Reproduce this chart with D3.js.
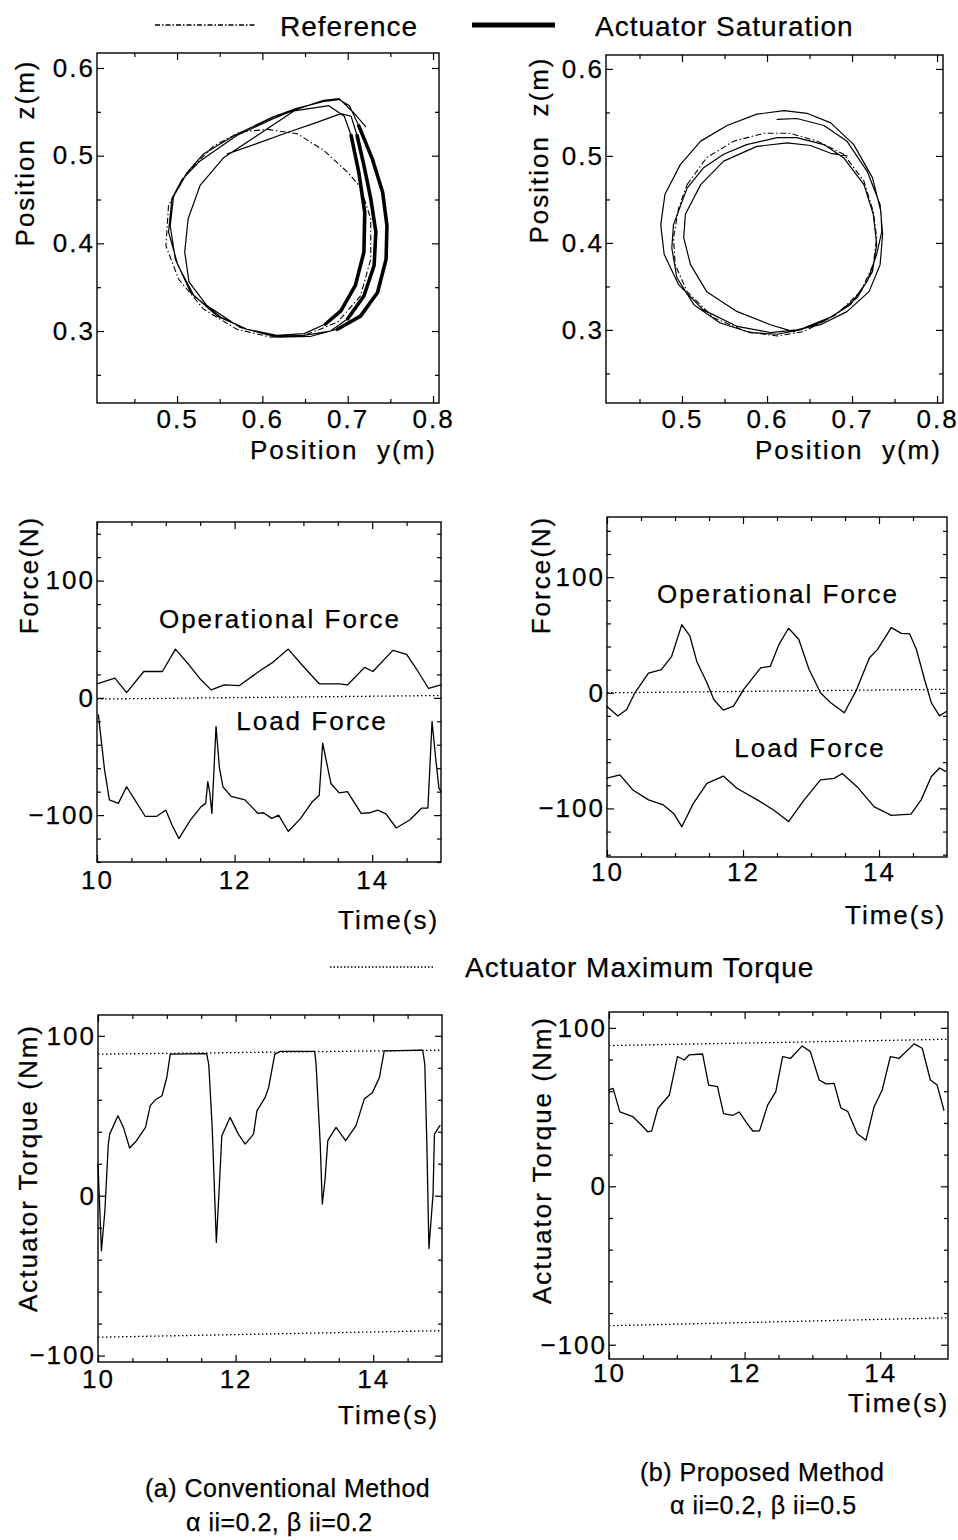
<!DOCTYPE html>
<html><head><meta charset="utf-8">
<script src="https://cdn.jsdelivr.net/npm/d3@7"></script>
<style>
body{margin:0;background:#fff;}
text{font-family:'Liberation Sans',Arial,sans-serif;font-size:26px;letter-spacing:2px;fill:#000;stroke:#000;stroke-width:0.25px;}
</style></head><body>
<script>
// ---------------- DATA ----------------
// (a) conventional: trajectory in y-z plane (m)
const posConvY = [0.559,0.594,0.631,0.664,0.692,0.704,0.711,0.719,0.727,0.733,0.731,0.719,0.700,0.680,0.649,0.617,0.582,0.547,0.516,0.498,0.492,0.496,0.512,0.531,0.567,0.612,0.637,0.672,0.690,0.702,0.713,0.729,0.741,0.746,0.745,0.735,0.715,0.688,0.657,0.617,0.574,0.535,0.514,0.509,0.513,0.527,0.555,0.594,0.637,0.678,0.696,0.704,0.713,0.720,0.719,0.709,0.692,0.674,0.649,0.617,0.582,0.551,0.520,0.501,0.490,0.494,0.506,0.527,0.570,0.612,0.637,0.672,0.690,0.707,0.721];
const posConvZ = [0.502,0.514,0.527,0.538,0.548,0.545,0.523,0.489,0.451,0.413,0.375,0.340,0.314,0.300,0.295,0.294,0.302,0.317,0.344,0.382,0.420,0.454,0.481,0.502,0.523,0.544,0.553,0.562,0.564,0.557,0.534,0.496,0.458,0.420,0.382,0.344,0.317,0.302,0.294,0.293,0.304,0.329,0.356,0.390,0.428,0.466,0.498,0.523,0.551,0.557,0.545,0.523,0.481,0.435,0.390,0.352,0.323,0.308,0.297,0.295,0.302,0.316,0.340,0.375,0.413,0.451,0.473,0.494,0.523,0.542,0.552,0.563,0.565,0.549,0.533];
const satConvRanges = [[6,12],[30,37],[51,57]];
const refConvY = [0.606,0.641,0.672,0.700,0.715,0.727,0.727,0.715,0.688,0.649,0.610,0.570,0.531,0.502,0.487,0.490,0.512,0.543,0.574,0.606];
const refConvZ = [0.530,0.525,0.506,0.481,0.464,0.428,0.382,0.340,0.310,0.295,0.293,0.302,0.325,0.359,0.397,0.443,0.481,0.511,0.527,0.530];

// (b) proposed: trajectory
const posPropY = [0.612,0.635,0.667,0.694,0.718,0.733,0.736,0.733,0.720,0.694,0.663,0.635,0.604,0.565,0.525,0.496,0.479,0.475,0.480,0.498,0.522,0.553,0.588,0.620,0.647,0.675,0.702,0.724,0.734,0.735,0.729,0.718,0.698,0.667,0.639,0.612,0.580,0.545,0.514,0.494,0.488,0.490,0.506,0.525,0.549,0.576,0.612,0.635,0.667,0.690,0.714,0.725,0.729,0.724,0.706,0.678,0.643,0.631,0.604,0.565,0.529,0.510,0.502,0.504,0.522,0.549,0.588,0.624,0.651,0.675,0.694];
const posPropZ = [0.542,0.543,0.535,0.517,0.482,0.444,0.410,0.375,0.344,0.321,0.306,0.300,0.297,0.304,0.323,0.352,0.387,0.421,0.456,0.490,0.517,0.535,0.548,0.552,0.549,0.538,0.513,0.475,0.436,0.413,0.387,0.356,0.329,0.310,0.300,0.295,0.297,0.308,0.329,0.360,0.394,0.421,0.463,0.486,0.502,0.513,0.521,0.521,0.513,0.498,0.467,0.433,0.398,0.367,0.337,0.316,0.302,0.298,0.306,0.321,0.344,0.375,0.406,0.433,0.467,0.494,0.511,0.515,0.512,0.503,0.500];
const refPropY = [0.506,0.529,0.561,0.596,0.627,0.659,0.690,0.714,0.725,0.729,0.725,0.710,0.682,0.643,0.612,0.576,0.537,0.506,0.492,0.490,0.496,0.506];
const refPropZ = [0.467,0.498,0.517,0.526,0.526,0.517,0.502,0.471,0.436,0.406,0.375,0.344,0.318,0.298,0.293,0.298,0.314,0.344,0.375,0.406,0.440,0.467];

// forces (N)
const tOpConv = [10,10.26,10.43,10.68,10.95,11.14,11.34,11.51,11.66,11.85,12.07,12.39,12.56,12.78,12.98,13.23,13.52,13.64,13.89,14.01,14.30,14.50,14.65,14.82,15.0];
const opConv  = [12,16.8,4.5,22.5,22.5,41.6,28,15.4,6.8,11,10.5,24,30.5,41.6,28,12,12,11,26,22.5,40.5,37,24,8,11];
const tLoadConv = [10.02,10.11,10.18,10.31,10.43,10.55,10.70,10.87,11.0,11.09,11.19,11.36,11.51,11.58,11.61,11.64,11.67,11.73,11.78,11.83,11.95,12.15,12.34,12.42,12.54,12.64,12.78,12.96,13.13,13.23,13.28,13.40,13.52,13.64,13.84,13.96,14.08,14.20,14.35,14.55,14.72,14.81,14.87,14.92,14.97,15.0];
const loadConv  = [-14.5,-61.5,-87,-90,-75.8,-87,-101,-101,-95.7,-108.5,-120,-104,-93,-90,-71.5,-81,-98.6,-24.5,-60,-75.8,-84,-87,-98.6,-98,-102.8,-100,-114,-102.8,-88.6,-83,-38.7,-73,-81,-80,-98.6,-98,-95.7,-99,-111,-104,-94,-94,-20,-50,-77,-80];
const tOpProp = [10,10.16,10.29,10.41,10.61,10.8,10.95,11.10,11.22,11.32,11.47,11.57,11.71,11.86,12.01,12.26,12.40,12.53,12.67,12.82,12.97,13.14,13.29,13.49,13.66,13.86,13.98,14.18,14.33,14.45,14.55,14.67,14.77,14.89,14.99];
const opProp  = [-11.8,-20,-14.4,0,17,20,31.4,58.9,48.9,27.1,8.7,-5.8,-15,-11.5,2.9,21.6,22.8,41.9,55.8,46.3,20.3,0,-8.7,-17.3,1.4,30.3,37.5,56.3,51.4,51,37.5,11.5,-8.7,-20,-16.2];
const tLoadProp = [10,10.19,10.38,10.61,10.83,10.98,11.10,11.27,11.47,11.71,11.91,12.21,12.45,12.67,12.90,13.14,13.34,13.46,13.68,13.93,14.08,14.18,14.47,14.62,14.77,14.89,14.98];
const loadProp  = [-73.9,-71,-84,-92.6,-97,-104.3,-115.8,-95.6,-78.3,-72,-82.5,-92.6,-101.3,-111.4,-92.6,-75.3,-74,-69.8,-81.4,-98.7,-103,-106,-105,-92.6,-72.4,-65,-68];
const zeroConv = [-1, 2];
const zeroProp = [0, 3];

// actuator torque (Nm)
const tTorqConv = [10,10.05,10.10,10.15,10.17,10.29,10.37,10.46,10.56,10.69,10.76,10.83,10.93,11.0,11.05,11.58,11.61,11.66,11.72,11.76,11.80,11.92,12.04,12.14,12.26,12.31,12.43,12.48,12.57,12.65,13.15,13.17,13.23,13.26,13.30,13.34,13.46,13.60,13.75,13.87,13.99,14.09,14.16,14.72,14.75,14.78,14.81,14.87,14.89,14.97];
const torqConv  = [19.8,-34.4,-9.4,32.3,38.5,50,42.7,29.8,34.4,42.7,56.3,59.8,62.5,73.9,88.5,88.8,82,42.7,-29.2,3.1,37.5,49,38.5,32.3,38.5,53,61.5,67.7,88.5,90.2,90.2,82,32.3,-5.2,10,34.4,42.7,34.4,43.8,60.4,64.6,73.9,90.6,91,82,32.3,-33,1,38.5,43.8];
const tTorqProp = [10,10.06,10.16,10.35,10.47,10.57,10.63,10.72,10.89,11.01,11.11,11.18,11.38,11.47,11.60,11.69,11.82,11.92,12.02,12.12,12.22,12.34,12.46,12.56,12.68,12.85,12.97,13.10,13.20,13.32,13.42,13.52,13.66,13.79,13.91,14.03,14.15,14.28,14.50,14.62,14.74,14.84,14.94];
const torqProp  = [60.8,61.8,47,44,39,34.4,35,49.1,57.6,81.9,79.7,82.9,83.5,63.9,62.9,45.8,44.7,46.9,40.6,34.9,35,51.2,59.7,81.9,80.8,88.6,85,67.1,64.6,65,49.4,47.3,33.3,29.1,50.2,60.8,81.9,80.8,89.9,87.1,67.1,63.9,48];
const limitTimes = [10, 15];
const maxTorqConvUpper = [88.5, 91];
const maxTorqConvLower = [-88.5, -84.4];
const maxTorqPropUpper = [88.8, 92.8];
const maxTorqPropLower = [-88, -83];

// tick values
const posMajor = [0.3,0.4,0.5,0.6];
const posMinor = [0.25,0.35,0.45,0.55];
const posXMajor = [0.5,0.6,0.7,0.8];
const posXMinor = [0.45,0.55,0.65,0.75];
const timeMajor = [10,12,14];
const timeMinor = [10.5,11,11.5,12.5,13,13.5,14.5];
const forceMajor = [-100,0,100];
const forceMinor = [-140,-120,-80,-60,-40,-20,20,40,60,80,120,140];
const torqMajor = [-100,0,100];
const torqMinor = [-80,-60,-40,-20,20,40,60,80];

// ---------------- DRAW ----------------
const svg = d3.select('body').append('svg').attr('width',958).attr('height',1540);

function panel(c){
  const g = svg.append('g');
  const x = d3.scaleLinear().domain(c.xd).range([c.x0,c.x1]);
  const y = d3.scaleLinear().domain(c.yd).range([c.y1,c.y0]);
  function ax(gen, tr, vals, size, pad, fmt){
    const a = g.append('g').attr('transform',tr)
      .call(gen.tickValues(vals).tickSize(size).tickPadding(pad).tickFormat(fmt || (()=>'')));
    a.select('.domain').remove();
    a.attr('font-size',null).attr('font-family',null);
    a.selectAll('line').attr('stroke','#000').attr('stroke-width',1.2);
    return a;
  }
  ax(d3.axisBottom(x), `translate(0,${c.y1})`, c.xM, -7, c.xpad, c.xf);
  ax(d3.axisBottom(x), `translate(0,${c.y1})`, c.xm, -4, 0, null);
  ax(d3.axisTop(x), `translate(0,${c.y0})`, c.xM, -7, 0, null);
  ax(d3.axisTop(x), `translate(0,${c.y0})`, c.xm, -4, 0, null);
  ax(d3.axisLeft(y), `translate(${c.x0},0)`, c.yM, -7, 2, c.yf);
  ax(d3.axisLeft(y), `translate(${c.x0},0)`, c.ym, -4, 0, null);
  ax(d3.axisRight(y), `translate(${c.x1},0)`, c.yM, -7, 0, null);
  ax(d3.axisRight(y), `translate(${c.x1},0)`, c.ym, -4, 0, null);
  g.append('rect').attr('x',c.x0).attr('y',c.y0).attr('width',c.x1-c.x0).attr('height',c.y1-c.y0)
    .attr('fill','none').attr('stroke','#000').attr('stroke-width',1.4);
  return {g,x,y};
}
function line(p, xs, ys, w, dash){
  const pts = xs.map((d,i)=>[d,ys[i]]);
  const l = d3.line().x(d=>p.x(d[0])).y(d=>p.y(d[1]));
  const path = p.g.append('path').datum(pts).attr('d',l).attr('fill','none')
    .attr('stroke','#000').attr('stroke-width',w).attr('stroke-linejoin','round').attr('stroke-linecap','round');
  if(dash) path.attr('stroke-dasharray',dash).attr('stroke-linecap','butt');
  return path;
}
function label(t, x, y, opt={}){
  const e = svg.append('text').attr('x',x).attr('y',y).text(t).style('white-space','pre');
  if(opt.anchor) e.attr('text-anchor',opt.anchor);
  if(opt.rot) e.attr('transform',`rotate(-90,${x},${y})`);
  if(opt.size) e.style('font-size',opt.size+'px');
  if(opt.ls!==undefined) e.style('letter-spacing',opt.ls+'px');
  return e;
}
const f1 = d3.format('.1f'), fd = d3.format('d');
const DASHDOT = '6,2.5,1.5,2.5', DOT = '1.5,2.5';

// ---- top row: positions
const pTL = panel({x0:97,x1:439,y0:53,y1:403,xd:[0.4062,0.807],yd:[0.2179,0.6171],
  xM:posXMajor,xm:posXMinor,yM:posMajor,ym:posMinor,xf:f1,yf:f1,xpad:7});
line(pTL, refConvY, refConvZ, 1.1, DASHDOT);
line(pTL, posConvY, posConvZ, 1.2);
satConvRanges.forEach(r=>{
  line(pTL, posConvY.slice(r[0],r[1]+1), posConvZ.slice(r[0],r[1]+1), 3.6);
});
const pTR = panel({x0:606,x1:943,y0:55,y1:403,xd:[0.4106,0.807],yd:[0.216,0.616],
  xM:posXMajor,xm:posXMinor,yM:posMajor,ym:posMinor,xf:f1,yf:f1,xpad:7});
line(pTR, refPropY, refPropZ, 1.1, DASHDOT);
line(pTR, posPropY, posPropZ, 1.2);

// ---- middle row: forces
const pML = panel({x0:97,x1:441,y0:522,y1:862,xd:[10,15],yd:[-140,150],
  xM:timeMajor,xm:timeMinor,yM:forceMajor,ym:forceMinor,xf:fd,yf:fd,xpad:9});
line(pML, limitTimes, zeroConv, 1.3, DOT);
line(pML, tOpConv, opConv, 1.3);
line(pML, tLoadConv, loadConv, 1.3);
const pMR = panel({x0:607,x1:947,y0:517,y1:857,xd:[10,15],yd:[-142,152],
  xM:timeMajor,xm:timeMinor,yM:forceMajor,ym:forceMinor,xf:fd,yf:fd,xpad:6});
line(pMR, limitTimes, zeroProp, 1.3, DOT);
line(pMR, tOpProp, opProp, 1.3);
line(pMR, tLoadProp, loadProp, 1.3);

// ---- bottom row: torques
const pBL = panel({x0:98,x1:442,y0:1015,y1:1362,xd:[10,15],yd:[-104,113],
  xM:timeMajor,xm:timeMinor,yM:torqMajor,ym:torqMinor,xf:fd,yf:fd,xpad:8});
line(pBL, limitTimes, maxTorqConvUpper, 1.3, DOT);
line(pBL, limitTimes, maxTorqConvLower, 1.3, DOT);
line(pBL, tTorqConv, torqConv, 1.3);
const pBR = panel({x0:609,x1:948,y0:1012,y1:1359,xd:[10,15],yd:[-109,110],
  xM:timeMajor,xm:timeMinor,yM:torqMajor,ym:torqMinor,xf:fd,yf:fd,xpad:5});
line(pBR, limitTimes, maxTorqPropUpper, 1.3, DOT);
line(pBR, limitTimes, maxTorqPropLower, 1.3, DOT);
line(pBR, tTorqProp, torqProp, 1.3);

// ---- legends
const lg = svg.append('g');
lg.append('line').attr('x1',155).attr('x2',255).attr('y1',25).attr('y2',25).attr('stroke','#000').attr('stroke-width',1.6).attr('stroke-dasharray','5,2,1.5,2');
lg.append('line').attr('x1',472).attr('x2',555).attr('y1',25).attr('y2',25).attr('stroke','#000').attr('stroke-width',5);
lg.append('line').attr('x1',330).attr('x2',435).attr('y1',967).attr('y2',967).attr('stroke','#000').attr('stroke-width',1.6).attr('stroke-dasharray','1.5,2');
label('Reference',280,36,{size:28,ls:1});
label('Actuator Saturation',595,36,{size:28,ls:1});
label('Actuator Maximum Torque',465,977,{size:28,ls:1});

// ---- axis titles
label('Position  z(m)',34,153,{anchor:'middle',rot:true});
label('Position  z(m)',548,150,{anchor:'middle',rot:true});
label('Position  y(m)',250,459);
label('Position  y(m)',755,459);
label('Force(N)',38,575,{anchor:'middle',rot:true});
label('Force(N)',550,575,{anchor:'middle',rot:true});
label('Time(s)',338,929);
label('Time(s)',845,924);
label('Actuator Torque (Nm)',37,1168,{anchor:'middle',rot:true});
label('Actuator Torque (Nm)',551,1160,{anchor:'middle',rot:true});
label('Time(s)',338,1424);
label('Time(s)',848,1412);

// ---- in-plot annotations
label('Operational Force',280,628,{anchor:'middle'});
label('Load Force',312,730,{anchor:'middle'});
label('Operational Force',778,603,{anchor:'middle'});
label('Load Force',810,757,{anchor:'middle'});

// ---- captions
label('(a) Conventional Method',145,1497,{size:25,ls:0.5});
label('α ii=0.2, β ii=0.2',186,1531,{size:25,ls:0.5});
label('(b) Proposed Method',640,1481,{size:25,ls:0.5});
label('α ii=0.2, β ii=0.5',670,1514,{size:25,ls:0.5});
</script>
</body></html>
